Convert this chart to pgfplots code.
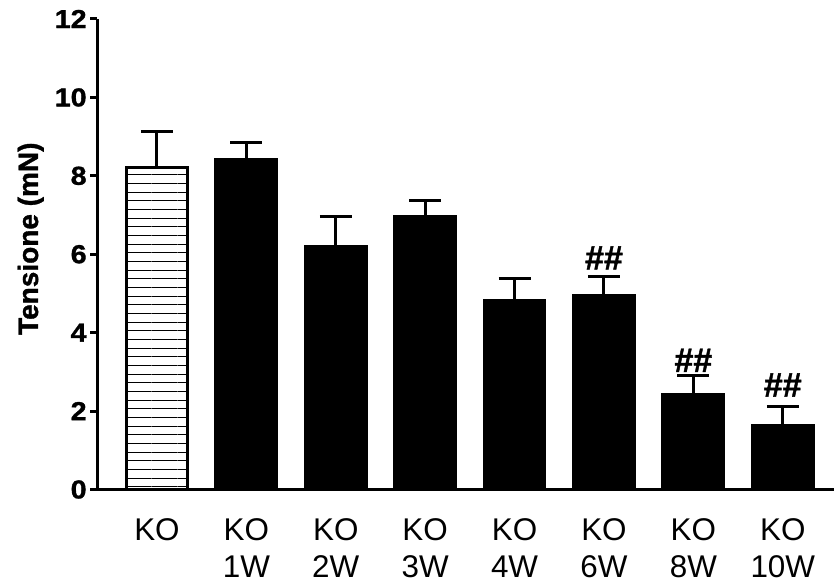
\documentclass[border=0pt]{standalone}
\usepackage{fontspec}
\setmainfont{Liberation Sans}
\newfontfamily\heavyfont{Liberation Sans Bold}[FakeBold=1.2]
\usepackage{graphicx}
\usepackage{pgfplots}
\pgfplotsset{compat=1.18}
\usetikzlibrary{patterns.meta}
\begin{document}
\begin{tikzpicture}
\begin{axis}[
  scale only axis, width=368.5pt, height=235.25pt,
  xmin=-0.671, xmax=7.573, ymin=0, ymax=12,
  axis x line=bottom, axis y line=left,
  axis line style={-, line width=1.5pt, black},
  ytick={0,2,4,6,8,10,12},
  xtick={0,1,2,3,4,5,6,7},
  xticklabels={KO, KO\\1W, KO\\2W, KO\\3W, KO\\4W, KO\\6W, KO\\8W, KO\\10W},
  xticklabel style={align=center, font=\fontsize{15.7}{18.5}\selectfont, yshift=-7.5pt},
  x tick style={draw=none},
  y tick style={line width=1.5pt, black},
  major tick length=3.5pt, tick align=outside,
  yticklabel={\scalebox{1.1}[1]{\pgfmathprintnumber{\tick}}},
  yticklabel style={font=\heavyfont\fontsize{13}{15}\selectfont, inner sep=1.5pt},
  /pgf/number format/assume math mode=true,
  ylabel={Tensione (mN)},
  ylabel style={font=\heavyfont\fontsize{14}{16}\selectfont, at={(rel axis cs:0,0.533)}, anchor=base, yshift=29.5pt},
  clip=false,
]
\addplot[ybar, bar shift=0pt, bar width=0.68, draw=black, line width=1.5pt,
  pattern={Lines[angle=0,distance=4.33pt,line width=0.5pt]}, pattern color=black,
  error bars/.cd, y dir=plus, y explicit,
  error bar style={line width=1.5pt, black},
  error mark options={line width=1.5pt, mark size=8pt, black, rotate=90}]
  table[x=x, y=y, y error=e] {
x y e
0 8.21 0.92
};
\addplot[ybar, bar shift=0pt, bar width=0.68, draw=black, fill=black, line width=1.5pt,
  error bars/.cd, y dir=plus, y explicit,
  error bar style={line width=1.5pt, black},
  error mark options={line width=1.5pt, mark size=8pt, black, rotate=90}]
  table[x=x, y=y, y error=e] {
x y e
1 8.42 0.42
2 6.19 0.77
3 6.96 0.41
4 4.83 0.55
5 4.94 0.49
6 2.43 0.47
7 1.63 0.48
};
\node[font=\heavyfont\fontsize{17}{18}\selectfont, anchor=south, inner sep=0pt] at (axis cs:5,5.60) {\#\#};
\node[font=\heavyfont\fontsize{17}{18}\selectfont, anchor=south, inner sep=0pt] at (axis cs:6,2.99) {\#\#};
\node[font=\heavyfont\fontsize{17}{18}\selectfont, anchor=south, inner sep=0pt] at (axis cs:7,2.36) {\#\#};
\end{axis}
\pgfresetboundingbox
\path ([xshift=-48.5pt, yshift=-46.25pt]current axis.south west) rectangle ([xshift=0.5pt, yshift=9.5pt]current axis.north east);
\end{tikzpicture}
\end{document}
